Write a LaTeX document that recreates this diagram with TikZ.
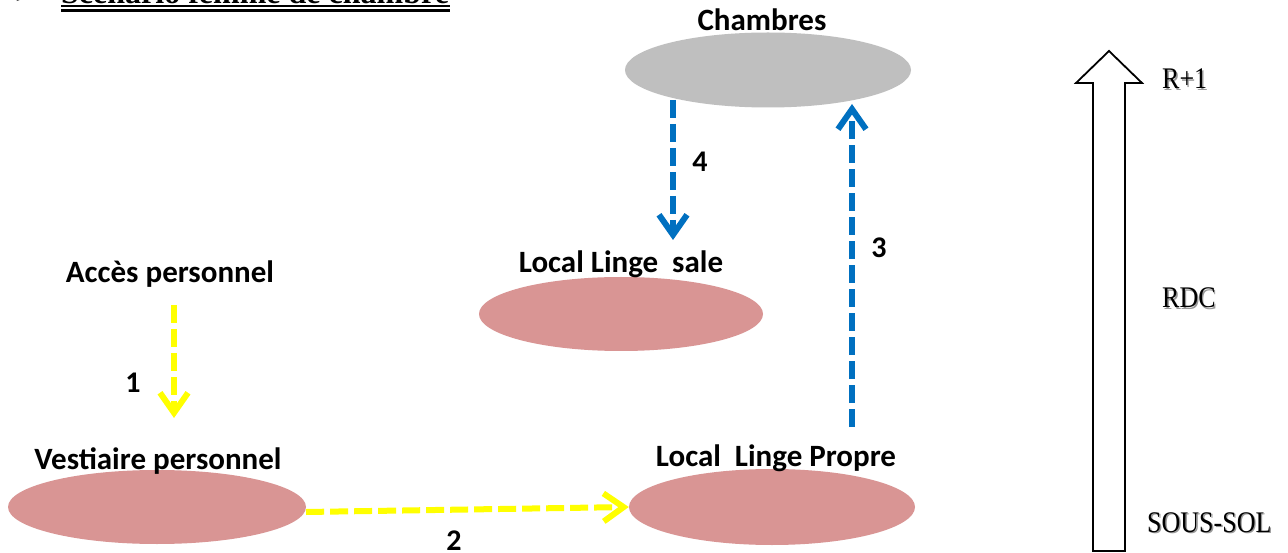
\documentclass[tikz,border=0pt]{standalone}
\usepackage{fontspec}
\setmainfont{Carlito}
\newfontfamily\titlefont{Liberation Serif}
\newfontfamily\floorfont{Liberation Serif}
\newfontfamily\symfont{DejaVu Sans}
\usetikzlibrary{arrows.meta,shapes.geometric}
\definecolor{roomPink}{HTML}{D99594}
\definecolor{roomGray}{HTML}{BFBFBF}
\definecolor{flowYellow}{HTML}{FFFF00}
\definecolor{flowBlue}{HTML}{0070C0}
\tikzset{
  room/.style={ellipse, draw=none, inner sep=0pt, minimum width=#1},
  lbl/.style={font=\fontsize{31}{34}\selectfont\bfseries, anchor=base, inner sep=0pt},
  num/.style={font=\fontsize{30}{34}\selectfont\bfseries, anchor=base, inner sep=0pt},
  floorlbl/.style={font=\floorfont\fontsize{26}{30}\selectfont, anchor=base west, inner sep=0pt},
  flow/.style={line width=6pt, dash pattern=on 18pt off 6pt,
    -{Straight Barb[length=20pt,width=28pt,line width=6pt]}},
  yflow/.style={flow, draw=flowYellow},
  bflow/.style={flow, draw=flowBlue},
}
\newcommand{\floortext}[3]{%
  \node[floorlbl, text=gray!80, xshift=1.4pt, yshift=-1.4pt] at (#1) {\scalebox{1}[1.15]{#3}};
  \node[floorlbl] (#2) at (#1) {\scalebox{1}[1.15]{#3}};}
\begin{document}
\begin{tikzpicture}[x=1pt,y=-1pt]
\useasboundingbox (0,0) rectangle (1288,553);
\fill[white] (0,0) rectangle (1288,553);

% title (cut off by the top edge)
\node[anchor=base west, inner sep=0pt, font=\symfont\fontsize{20}{24}\selectfont] (bullet) at (14,3.5) {➢};
\node[anchor=base west, inner sep=0pt, font=\titlefont\fontsize{32}{36}\selectfont\bfseries] (title) at (61,4) {Scénario femme de chambre};
\draw[line width=2.6pt] (61,6) -- (450,6);
\draw[line width=2.6pt] (61,10.8) -- (450,10.8);

% rooms
\node[room=286pt, minimum height=75pt, fill=roomGray] (chambres) at (768,70) {};
\node[room=284pt, minimum height=74pt, fill=roomPink] (sale) at (621,314) {};
\node[room=298pt, minimum height=74pt, fill=roomPink] (vest) at (157,507) {};
\node[room=286pt, minimum height=76pt, fill=roomPink] (propre) at (772,507) {};

% labels
\node[lbl] (chlbl) at (762,31) {Chambres};
\node[lbl] (salelbl) at (621,273) {Local Linge \ sale};
\node[lbl] (acces) at (170,283) {Accès personnel};
\node[lbl] (vestlbl) at (158,469) {Vestiaire personnel};
\node[lbl] (proprelbl) at (776,466) {Local \ Linge Propre};

% flows
\coordinate (a1s) at (174,305);
\coordinate (a1e) at (174,418);
\draw[yflow] (a1s) -- (a1e);
\node[num] (n1) at (133,392) {1};

\draw[yflow] ([yshift=-5pt]vest.east) -- (propre.west);
\node[num] (n2) at (454,550) {2};

\coordinate (a3s) at (852,427);
\coordinate (a3e) at (852,104);
\draw[bflow] (a3s) -- (a3e);
\node[num] (n3) at (879,258) {3};

\coordinate (a4s) at (673,100);
\coordinate (a4e) at (673,240);
\draw[bflow] (a4s) -- (a4e);
\node[num] (n4) at (700,172) {4};

% floor arrow
\draw[line width=1.8pt, fill=white, line join=miter]
  (1093,551) -- (1093,83) -- (1076,83) -- (1109,51) -- (1142,83)
  -- (1125,83) -- (1125,551) -- cycle;
\floortext{1162,89}{r1}{R+1}
\floortext{1162,308}{rdc}{RDC}
\floortext{1147,532}{ss}{SOUS-SOL}
\end{tikzpicture}
\end{document}
